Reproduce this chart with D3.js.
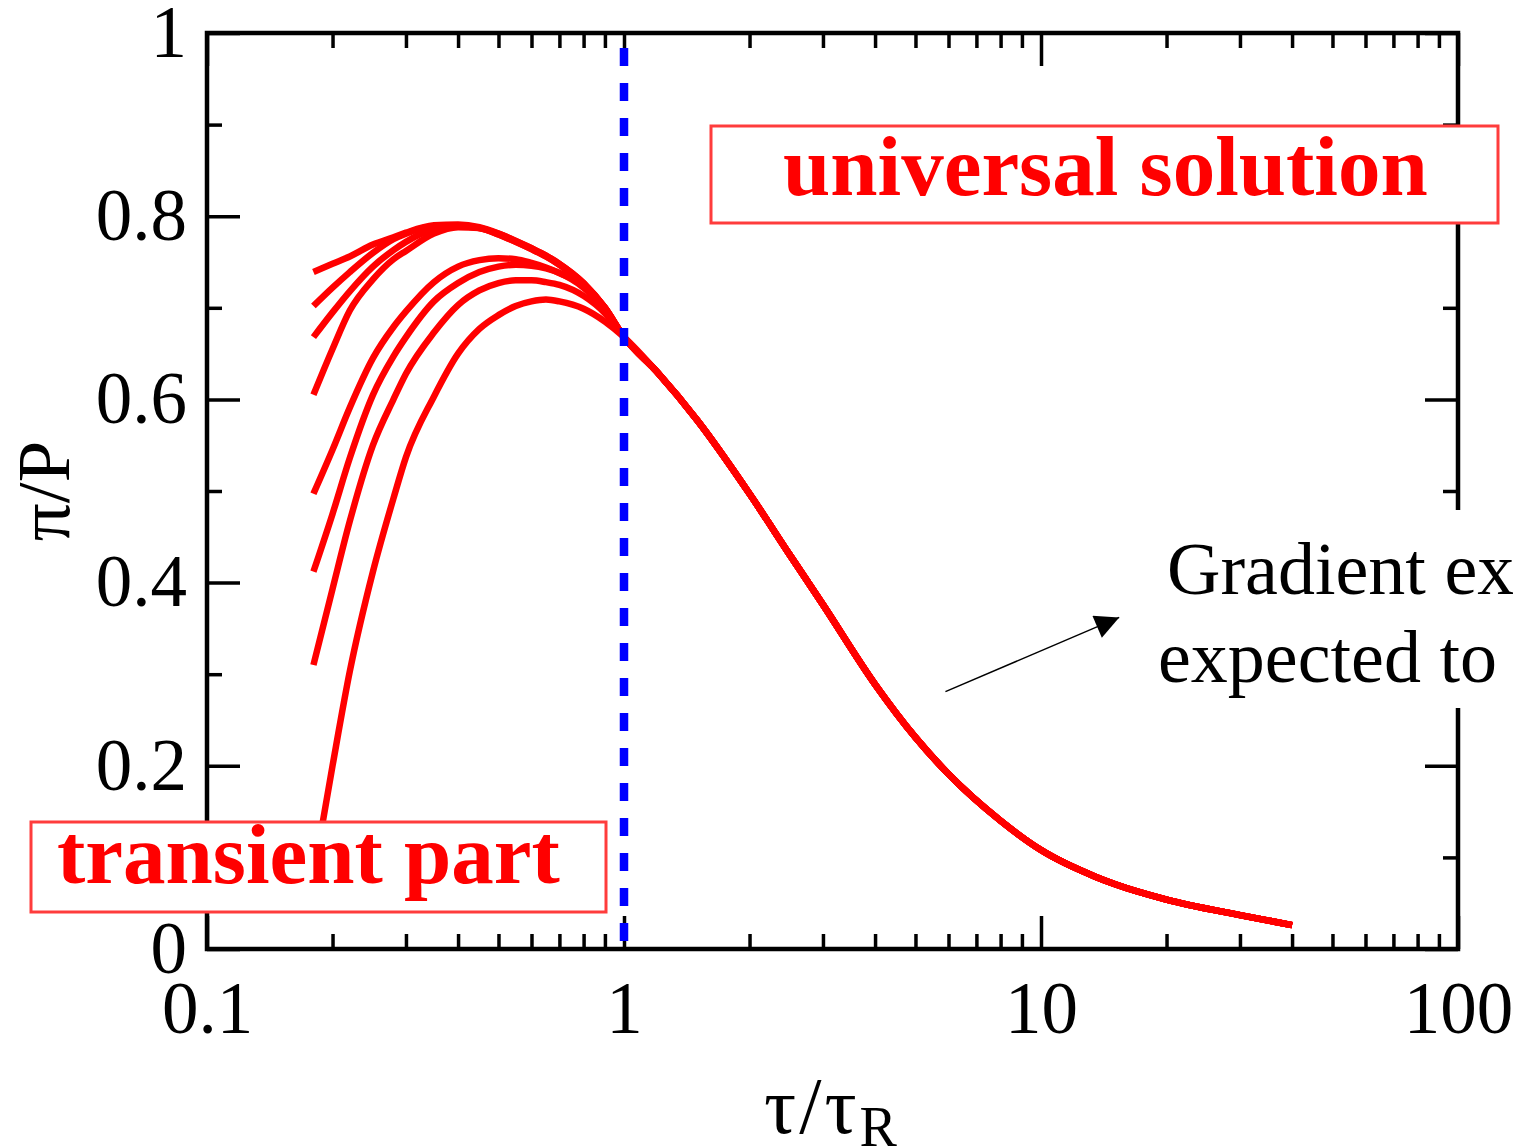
<!DOCTYPE html>
<html>
<head>
<meta charset="utf-8">
<script src="https://cdn.jsdelivr.net/npm/d3@7"></script>
<style>
  body { margin: 0; background: #fff; }
  svg { display: block; }
</style>
</head>
<body>
<svg id="chart" width="1513" height="1148"></svg>
<script>
// tau/tau_R sample points for the early (transient) part
var tauEarly = [0.18, 0.2, 0.22, 0.25, 0.28, 0.3, 0.35, 0.4, 0.45, 0.5, 0.55, 0.6, 0.65, 0.7, 0.8, 0.9];

// pi/P of each run on tauEarly
var run1 = [0.739, 0.748, 0.756, 0.769, 0.777, 0.782, 0.790, 0.791, 0.788, 0.781, 0.773, 0.765, 0.757, 0.748, 0.727, 0.700];
var run2 = [0.702, 0.722, 0.739, 0.760, 0.775, 0.781, 0.789, 0.790, 0.787, 0.781, 0.773, 0.765, 0.757, 0.748, 0.727, 0.700];
var run3 = [0.668, 0.695, 0.718, 0.745, 0.763, 0.772, 0.786, 0.789, 0.787, 0.780, 0.772, 0.764, 0.756, 0.747, 0.726, 0.700];
var run4 = [0.605, 0.655, 0.697, 0.731, 0.753, 0.762, 0.781, 0.788, 0.787, 0.780, 0.772, 0.764, 0.756, 0.747, 0.726, 0.700];
var run5 = [0.497, 0.545, 0.591, 0.645, 0.679, 0.696, 0.728, 0.745, 0.752, 0.754, 0.753, 0.749, 0.744, 0.738, 0.724, 0.699];
var run6 = [0.412, 0.475, 0.536, 0.605, 0.647, 0.668, 0.707, 0.727, 0.739, 0.745, 0.747, 0.746, 0.743, 0.738, 0.722, 0.698];
var run7 = [0.310, 0.393, 0.467, 0.550, 0.600, 0.628, 0.673, 0.703, 0.719, 0.727, 0.730, 0.730, 0.728, 0.725, 0.713, 0.694];
var run8 = [0.080, 0.200, 0.303, 0.412, 0.492, 0.537, 0.603, 0.650, 0.677, 0.692, 0.702, 0.707, 0.709, 0.707, 0.699, 0.685];

// shared universal tail
var tauLate = [1, 1.2, 1.5, 2, 2.5, 3, 4, 5, 6, 8, 10, 13.5, 15, 20, 30, 40];
var piLate  = [0.668, 0.630, 0.577, 0.497, 0.430, 0.376, 0.289, 0.231, 0.191, 0.140, 0.108, 0.079, 0.071, 0.054, 0.037, 0.026];

var xMajor = [0.1, 1, 10, 100];
var xLabels = ['0.1', '1', '10', '100'];
var xMinor = [0.2,0.3,0.4,0.5,0.6,0.7,0.8,0.9, 2,3,4,5,6,7,8,9, 20,30,40,50,60,70,80,90];
var yMajor = [0, 0.2, 0.4, 0.6, 0.8, 1];
var yLabels = ['0', '0.2', '0.4', '0.6', '0.8', '1'];
var yMinor = [0.1, 0.3, 0.5, 0.7, 0.9];

var tauMark = 1; // blue dashed line
var arrowFrom = [5.9, 0.281], arrowTo = [15.4, 0.362];

var runs = [run1, run2, run3, run4, run5, run6, run7, run8];

var L = 207, R = 1458, T = 33, B = 949;
var serif = '"Liberation Serif", "Times New Roman", serif';

var svg = d3.select('#chart');
var x = d3.scaleLog().domain([0.1, 100]).range([L, R]);
var y = d3.scaleLinear().domain([0, 1]).range([B, T]);

function styleAxis(g, labelled) {
	g.select('.domain').remove();
	g.selectAll('line').attr('stroke', '#000').attr('stroke-width', 3.5);
	g.selectAll('text')
		.attr('font-family', serif)
		.attr('font-size', 73)
		.attr('fill', '#000');
	if (!labelled) g.selectAll('text').remove();
}

// bottom
svg.append('g').attr('transform', 'translate(0,' + B + ')')
	.call(d3.axisBottom(x).tickValues(xMajor).tickSize(-33).tickFormat(function(d, i) { return xLabels[i]; }))
	.call(styleAxis, true)
	.selectAll('text').attr('y', 84).attr('dy', 0);
svg.append('g').attr('transform', 'translate(0,' + B + ')')
	.call(d3.axisBottom(x).tickValues(xMinor).tickSize(-15))
	.call(styleAxis, false);
// top
svg.append('g').attr('transform', 'translate(0,' + T + ')')
	.call(d3.axisTop(x).tickValues(xMajor).tickSize(-33))
	.call(styleAxis, false);
svg.append('g').attr('transform', 'translate(0,' + T + ')')
	.call(d3.axisTop(x).tickValues(xMinor).tickSize(-15))
	.call(styleAxis, false);
// left
svg.append('g').attr('transform', 'translate(' + L + ',0)')
	.call(d3.axisLeft(y).tickValues(yMajor).tickSize(-33).tickPadding(20).tickFormat(function(d, i) { return yLabels[i]; }))
	.call(styleAxis, true);
svg.append('g').attr('transform', 'translate(' + L + ',0)')
	.call(d3.axisLeft(y).tickValues(yMinor).tickSize(-15))
	.call(styleAxis, false);
// right
svg.append('g').attr('transform', 'translate(' + R + ',0)')
	.call(d3.axisRight(y).tickValues(yMajor).tickSize(-33))
	.call(styleAxis, false);
svg.append('g').attr('transform', 'translate(' + R + ',0)')
	.call(d3.axisRight(y).tickValues(yMinor).tickSize(-15))
	.call(styleAxis, false);

// frame
svg.append('rect')
	.attr('x', L).attr('y', T).attr('width', R - L).attr('height', B - T)
	.attr('fill', 'none').attr('stroke', '#000').attr('stroke-width', 4.5);

// curves
var line = d3.line()
	.x(function(d) { return x(d[0]); })
	.y(function(d) { return y(d[1]); })
	.curve(d3.curveMonotoneX);

runs.forEach(function(run) {
	var pts = tauEarly.map(function(t, i) { return [t, run[i]]; })
		.concat(tauLate.map(function(t, i) { return [t, piLate[i]]; }));
	svg.append('path')
		.attr('d', line(pts))
		.attr('fill', 'none')
		.attr('stroke', '#ff0000')
		.attr('stroke-width', 6.5);
});

// blue dashed line at tau = tau_R, drawn bottom-up
svg.append('line')
	.attr('x1', x(tauMark)).attr('x2', x(tauMark))
	.attr('y1', y(0)).attr('y2', y(1))
	.attr('stroke', '#0000ff').attr('stroke-width', 8.5)
	.attr('stroke-dasharray', '18,17')
	.attr('stroke-dashoffset', 27);

// arrow
svg.append('defs').append('marker')
	.attr('id', 'head').attr('viewBox', '0 0 10 10')
	.attr('refX', 10).attr('refY', 5)
	.attr('markerUnits', 'userSpaceOnUse')
	.attr('markerWidth', 36).attr('markerHeight', 24)
	.attr('orient', 'auto')
	.append('path').attr('d', 'M0,0L10,5L0,10Z').attr('fill', '#000');
svg.append('line')
	.attr('x1', x(arrowFrom[0])).attr('y1', y(arrowFrom[1]))
	.attr('x2', x(arrowTo[0])).attr('y2', y(arrowTo[1]))
	.attr('stroke', '#000').attr('stroke-width', 1.5)
	.attr('marker-end', 'url(#head)');

// clipped note on the right
svg.append('rect').attr('x', 1150).attr('y', 510).attr('width', 400).attr('height', 198).attr('fill', '#fff');
svg.append('text').attr('x', 1167).attr('y', 594)
	.attr('font-family', serif).attr('font-size', 74).attr('fill', '#000')
	.text('Gradient ex');
svg.append('text').attr('x', 1158).attr('y', 682)
	.attr('font-family', serif).attr('font-size', 74).attr('fill', '#000')
	.text('expected to');

// labelled boxes
function box(x0, y0, w, h, tx, ty, label) {
	svg.append('rect')
		.attr('x', x0).attr('y', y0).attr('width', w).attr('height', h)
		.attr('fill', '#fff').attr('stroke', '#ff3c3c').attr('stroke-width', 3);
	svg.append('text').attr('x', tx).attr('y', ty)
		.attr('font-family', serif).attr('font-weight', 'bold')
		.attr('font-size', 85).attr('fill', '#ff0000')
		.text(label);
}
box(711, 126, 787, 97, 783, 195, 'universal solution');
box(31, 822, 575, 90, 57, 883, 'transient part');

// axis titles
var xt = svg.append('text').attr('x', 764).attr('y', 1133)
	.attr('font-family', serif).attr('font-size', 80).attr('fill', '#000')
	.attr('letter-spacing', 3);
xt.append('tspan').text('τ/τ');
xt.append('tspan').attr('font-size', 56).attr('dy', 13).attr('letter-spacing', 0).text('R');

svg.append('text')
	.attr('transform', 'translate(69,491) rotate(-90)')
	.attr('text-anchor', 'middle')
	.attr('font-family', serif).attr('font-size', 75).attr('fill', '#000')
	.text('π/P');
</script>
</body>
</html>
